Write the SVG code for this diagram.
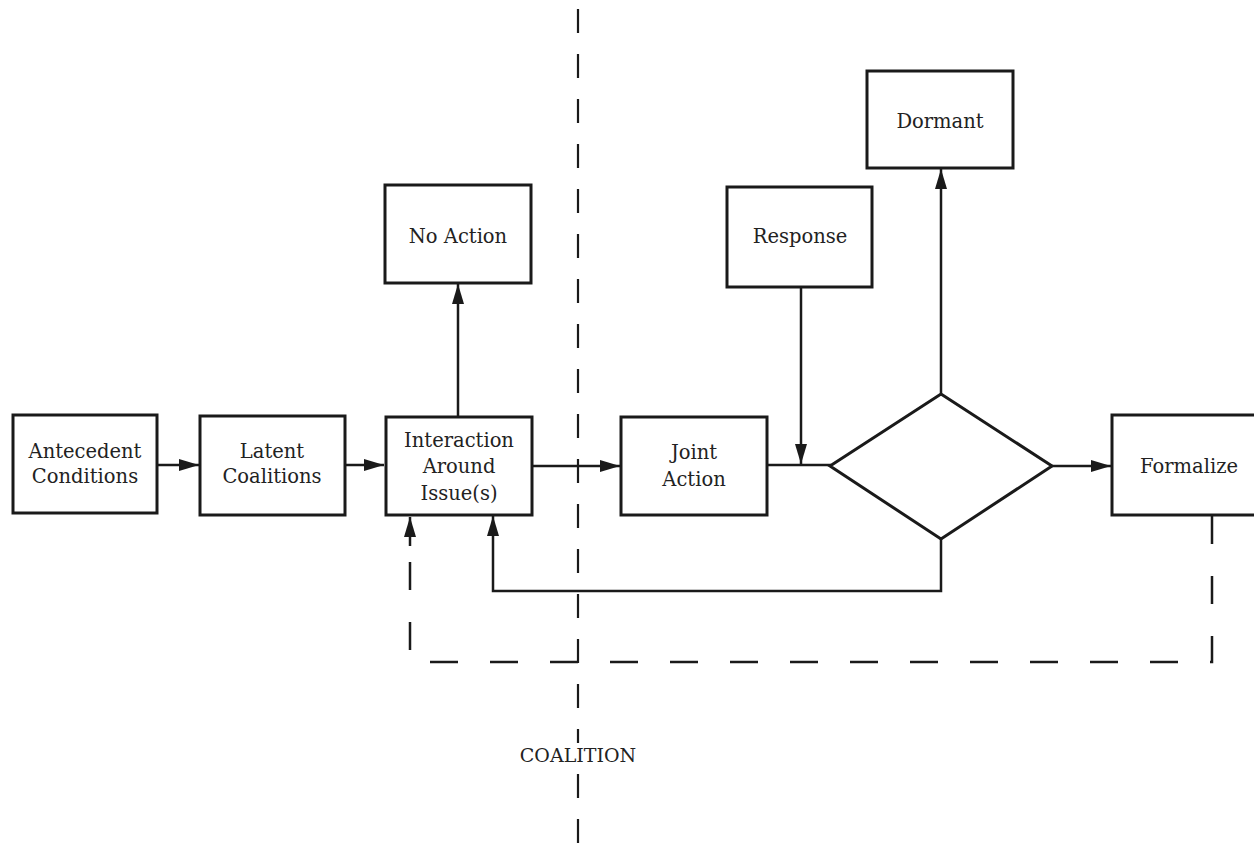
<svg xmlns="http://www.w3.org/2000/svg" width="1254" height="846" viewBox="0 0 1254 846">
<style>
.box{fill:#fff;stroke:#1a1a1a;stroke-width:3}
.lbl{font-family:"DejaVu Serif","Liberation Serif",serif;font-size:19.5px;fill:#222;text-anchor:middle}
.ln{fill:none;stroke:#1a1a1a;stroke-width:2.5}
.dash{fill:none;stroke:#1a1a1a;stroke-width:2.5;stroke-dasharray:28 32}
.vdash{fill:none;stroke:#1a1a1a;stroke-width:2.2;stroke-dasharray:24 21}
</style>
<defs>
<marker id="ah" markerWidth="20" markerHeight="12" refX="20" refY="6" orient="auto" markerUnits="userSpaceOnUse">
<path d="M0,0 L20,6 L0,12 Z" fill="#1a1a1a"/>
</marker>
</defs>
<rect width="1254" height="846" fill="#fff"/>
<g id="divider">
<line class="vdash" x1="578" y1="9" x2="578" y2="846"/>
<rect x="512" y="743" width="132" height="25" fill="#fff"/>
<text class="lbl" x="578" y="762" style="font-size:19px">COALITION</text>
</g>
<g id="connectors">
<line class="ln" x1="158" y1="465" x2="199" y2="465" marker-end="url(#ah)"/>
<line class="ln" x1="346" y1="465" x2="384" y2="465" marker-end="url(#ah)"/>
<line class="ln" x1="532" y1="466" x2="620" y2="466" marker-end="url(#ah)"/>
<line class="ln" x1="458" y1="416" x2="458" y2="284" marker-end="url(#ah)"/>
<line class="ln" x1="767" y1="465" x2="831" y2="465"/>
<line class="ln" x1="801" y1="287" x2="801" y2="464" marker-end="url(#ah)"/>
<line class="ln" x1="941" y1="393" x2="941" y2="169" marker-end="url(#ah)"/>
<line class="ln" x1="1052" y1="466" x2="1111" y2="466" marker-end="url(#ah)"/>
<polyline class="ln" points="941,539 941,591 493,591 493,516" marker-end="url(#ah)"/>
<polyline class="dash" points="1212,516 1212,662 410,662 410,545"/>
<line class="ln" x1="410" y1="546" x2="410" y2="517" marker-end="url(#ah)"/>
</g>
<g id="antecedent">
<rect class="box" x="13" y="415" width="144" height="98"/>
<text class="lbl" x="85" y="458">Antecedent</text>
<text class="lbl" x="85" y="483">Conditions</text>
</g>
<g id="latent">
<rect class="box" x="200" y="416" width="145" height="99"/>
<text class="lbl" x="272" y="458">Latent</text>
<text class="lbl" x="272" y="483">Coalitions</text>
</g>
<g id="interaction">
<rect class="box" x="386" y="417" width="146" height="98"/>
<text class="lbl" x="459" y="447">Interaction</text>
<text class="lbl" x="459" y="473">Around</text>
<text class="lbl" x="459" y="500">Issue(s)</text>
</g>
<g id="noaction">
<rect class="box" x="385" y="185" width="146" height="98"/>
<text class="lbl" x="458" y="243">No Action</text>
</g>
<g id="joint">
<rect class="box" x="621" y="417" width="146" height="98"/>
<text class="lbl" x="694" y="459">Joint</text>
<text class="lbl" x="694" y="486">Action</text>
</g>
<g id="response">
<rect class="box" x="727" y="187" width="145" height="100"/>
<text class="lbl" x="800" y="243">Response</text>
</g>
<g id="dormant">
<rect class="box" x="867" y="71" width="146" height="97"/>
<text class="lbl" x="940" y="128">Dormant</text>
</g>
<g id="decision">
<polygon class="box" points="941,394 1052,466 941,539 830,466"/>
</g>
<g id="formalize">
<rect class="box" x="1112" y="415" width="150" height="100"/>
<text class="lbl" x="1189" y="473">Formalize</text>
</g>
</svg>
